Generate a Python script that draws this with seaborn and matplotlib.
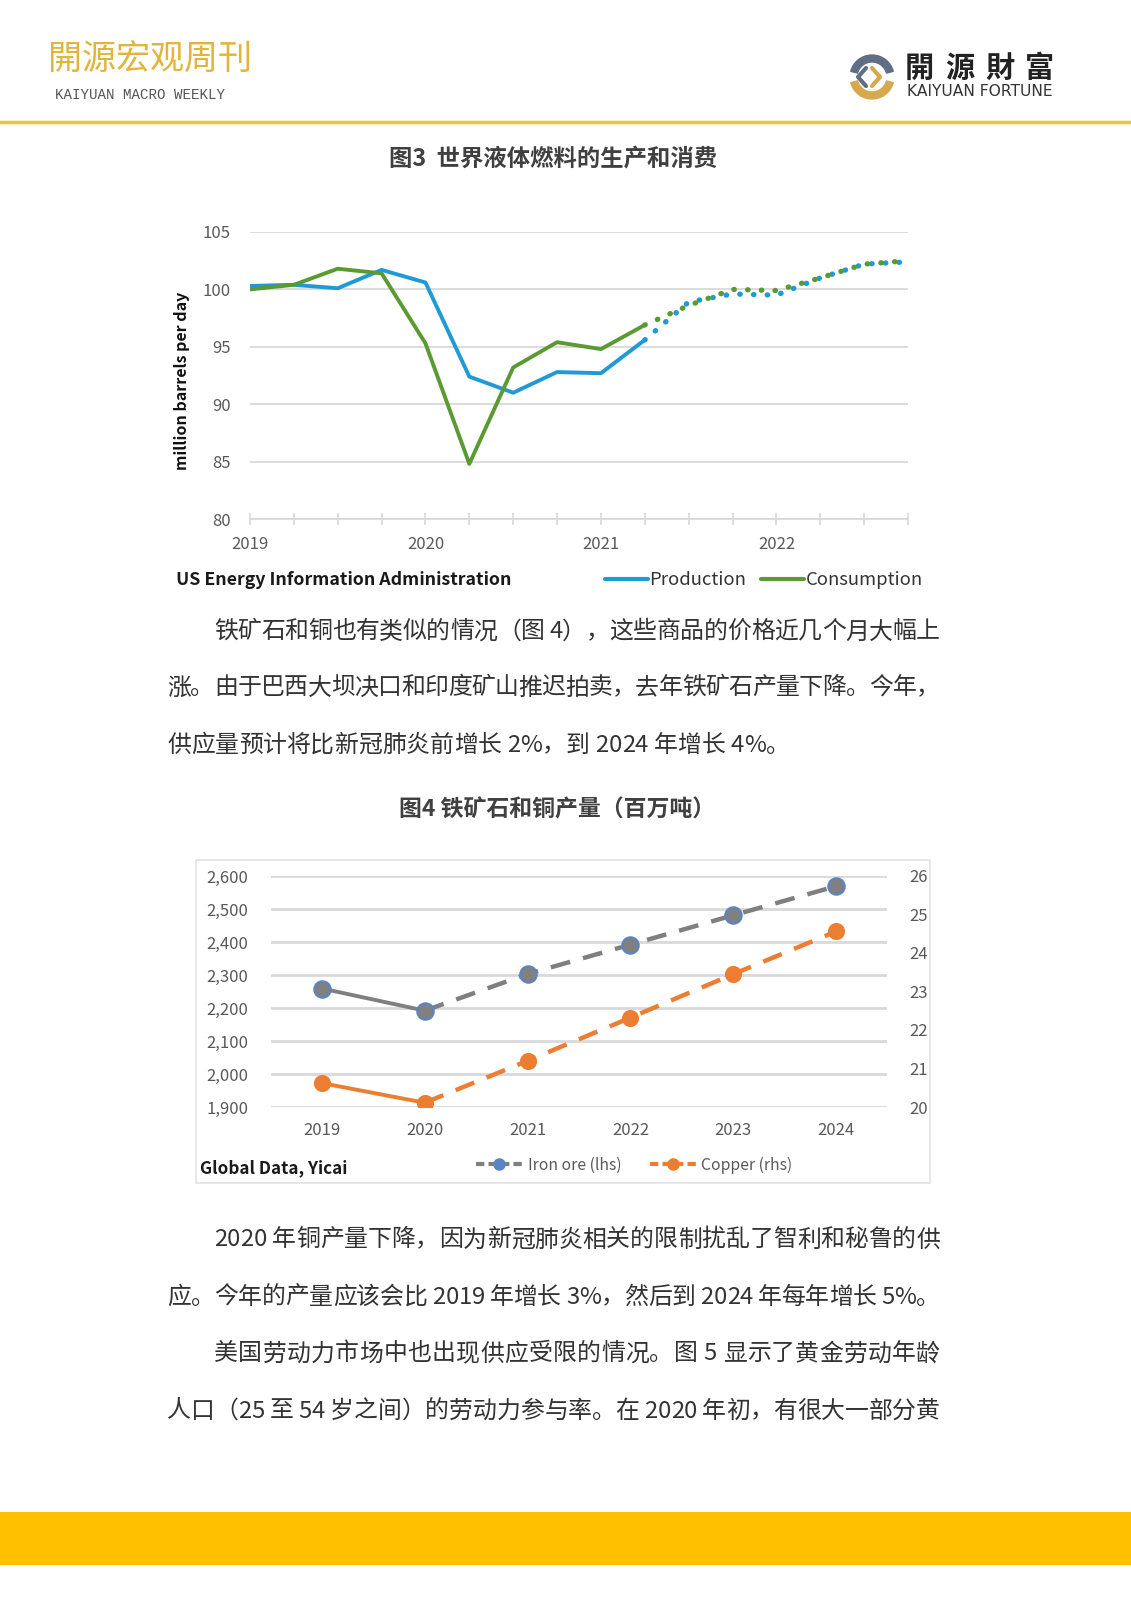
import seaborn as sns
import matplotlib.pyplot as plt
import pandas as pd
from matplotlib.lines import Line2D
from matplotlib.patches import Rectangle, Wedge
from matplotlib.font_manager import FontProperties
from matplotlib.textpath import TextToPath

# ---- data: figure 3 (quarterly, million barrels per day)
quarters = [2019.0, 2019.25, 2019.5, 2019.75, 2020.0, 2020.25, 2020.5, 2020.75,
            2021.0, 2021.25, 2021.5, 2021.75, 2022.0, 2022.25, 2022.5, 2022.75]
production = [100.3, 100.4, 100.1, 101.7, 100.6, 92.4, 91.0, 92.8,
              92.7, 95.6, 98.9, 99.6, 99.5, 101.0, 102.2, 102.4]
consumption = [100.0, 100.4, 101.8, 101.4, 95.3, 84.8, 93.2, 95.4,
               94.8, 96.9, 98.6, 100.0, 99.9, 101.0, 102.2, 102.5]
last_actual = 9  # 2021Q2, forecast after

# ---- data: figure 4 (million tonnes)
years = [2019, 2020, 2021, 2022, 2023, 2024]
iron_ore = [2259, 2192, 2303, 2392, 2481, 2569]
copper = [20.62, 20.11, 21.20, 22.32, 23.45, 24.56]
last_actual_year = 1

para1 = ["铁矿石和铜也有类似的情况（图 4），这些商品的价格近几个月大幅上",
         "涨。由于巴西大坝决口和印度矿山推迟拍卖，去年铁矿石产量下降。今年，",
         "供应量预计将比新冠肺炎前增长 2%，到 2024 年增长 4%。"]
para2 = ["2020 年铜产量下降，因为新冠肺炎相关的限制扰乱了智利和秘鲁的供",
         "应。今年的产量应该会比 2019 年增长 3%，然后到 2024 年每年增长 5%。"]
para3 = ["美国劳动力市场中也出现供应受限的情况。图 5 显示了黄金劳动年龄",
         "人口（25 至 54 岁之间）的劳动力参与率。在 2020 年初，有很大一部分黄"]

sns.set_theme(style="white")
plt.rcParams['font.family'] = ['Noto Sans CJK SC', 'DejaVu Sans']

BLUE = "#1f9ad6"
GREEN = "#5b9a32"
GREY = "#7f7f7f"
ORANGE = "#ed7d31"
GRID = "#d9d9d9"
TICK = "#595959"
DOTS = (0, (0.1, 2.5))

fig = plt.figure(figsize=(11.31, 16), dpi=100)

# page decoration in pixel coordinates
deco = fig.add_axes([0, 0, 1, 1], zorder=0)
deco.set_xlim(0, 1131)
deco.set_ylim(1600, 0)
deco.axis("off")

deco.text(48, 60, "開源宏观周刊", fontsize=24.5, color="#e2b43c", va="center")
deco.text(55, 95, "KAIYUAN MACRO WEEKLY", fontsize=10.2, color="#555555", va="center",
          family=["Liberation Mono", "DejaVu Sans Mono"])
deco.axhline(122, color="#f3c13a", lw=2.5)
# logo
deco.add_patch(Wedge((872, 77), 22, 15, 165, width=7, color="#d6a94f"))
deco.add_patch(Wedge((872, 77), 22, 195, 345, width=7, color="#5f6e85"))
deco.plot([866, 858, 866], [68, 77, 86], color="#5f6e85", lw=3)
deco.plot([872, 880, 872], [68, 77, 86], color="#d6a94f", lw=3)
for i, ch in enumerate("開源財富"):
    deco.text(905 + i * 40, 68, ch, fontsize=21, weight="bold", color="#222222", va="center")
deco.text(907, 92, "KAIYUAN FORTUNE", fontsize=11.2, color="#333333", va="center",
          family=["DejaVu Sans"])
deco.add_patch(Rectangle((0, 1512), 1131, 53, color="#ffc000", lw=0))

deco.text(553, 158, "图3  世界液体燃料的生产和消费", fontsize=16.8, weight="bold",
          color="#404040", ha="center", va="center")
deco.text(557, 810, "图4 铁矿石和铜产量（百万吨）", fontsize=16.5, weight="bold",
          color="#404040", ha="center", va="center")
deco.add_patch(Rectangle((196, 860), 734, 323, fill=False, edgecolor="#e3e3e3", lw=1.2))

# body text, justified line by line
body_prop = FontProperties(family="Noto Sans CJK SC", size=17.2)
t2p = TextToPath()


def put_line(x0, x1, y, s, justify=True):
    widths = [t2p.get_text_width_height_descent(ch, body_prop, ismath=False)[0] * 100 / 72
              for ch in s]
    extra = (x1 - x0 - sum(widths)) / (len(s) - 1) if justify else 0
    x = x0
    for ch, w in zip(s, widths):
        deco.text(x, y, ch, fontproperties=body_prop, color="#333333", va="center")
        x += w + extra


put_line(214, 940, 632, para1[0])
put_line(167, 940, 688, para1[1])
put_line(167, 940, 745, para1[2], justify=False)
put_line(214, 940, 1240, para2[0])
put_line(167, 940, 1297, para2[1])
put_line(214, 940, 1354, para3[0])
put_line(167, 940, 1411, para3[1])

# ---- figure 3
df3 = pd.DataFrame({"quarter": quarters, "Production": production, "Consumption": consumption})
act = df3.iloc[:last_actual + 1]
fc = df3.iloc[last_actual:]

ax1 = fig.add_axes([250 / 1131, 1 - 519 / 1600, 658 / 1131, 287 / 1600], zorder=2)
ax1.patch.set_alpha(0)
sns.lineplot(data=act, x="quarter", y="Production", color=BLUE, lw=2.8, ax=ax1)
sns.lineplot(data=act, x="quarter", y="Consumption", color=GREEN, lw=2.8, ax=ax1)
sns.lineplot(data=fc, x="quarter", y="Production", color=BLUE, lw=3.8,
             linestyle=DOTS, dash_capstyle="round", ax=ax1)
sns.lineplot(data=fc, x="quarter", y="Consumption", color=GREEN, lw=3.8,
             linestyle=DOTS, dash_capstyle="round", ax=ax1)
ax1.set_xlim(2019, 2022.75)
ax1.set_ylim(80, 105)
ax1.set_yticks([80, 85, 90, 95, 100, 105])
ax1.set_xticks([2019, 2020, 2021, 2022])
ax1.set_xticklabels(["2019", "2020", "2021", "2022"])
ax1.set_xticks(quarters, minor=True)
ax1.grid(axis="y", color=GRID, lw=1.3)
ax1.set_axisbelow(True)
for side in ["left", "right", "top"]:
    ax1.spines[side].set_visible(False)
ax1.spines["bottom"].set_color(GRID)
ax1.spines["bottom"].set_linewidth(1.3)
ax1.tick_params(axis="x", which="both", direction="inout", length=9, width=1.2,
                color=GRID, bottom=True, labelsize=12, labelcolor=TICK, pad=8)
ax1.tick_params(axis="y", length=0, labelsize=12, labelcolor=TICK, pad=14)
ax1.set_xlabel("")
ax1.set_ylabel("million barrels per day", fontsize=11.5, weight="bold", color="#111111")
ax1.yaxis.set_label_coords(-0.091, 0.48)

deco.text(176, 580, "US Energy Information Administration", fontsize=12.8, weight="bold",
          color="#1a1a1a", va="center")
h1 = [Line2D([], [], color=BLUE, lw=3), Line2D([], [], color=GREEN, lw=3)]
fig.legend(h1, ["Production", "Consumption"], loc="center left",
           bbox_to_anchor=(596 / 1131, 1 - 580 / 1600), ncol=2, frameon=False,
           fontsize=13.3, handlelength=2.3, handletextpad=0.1, columnspacing=0.8,
           borderpad=0, labelcolor="#333333")

# ---- figure 4
df4 = pd.DataFrame({"year": years, "iron": iron_ore, "copper": copper})
ax2 = fig.add_axes([270.6 / 1131, 1 - 1107 / 1600, 616.8 / 1131, 231 / 1600], zorder=2)
ax2.patch.set_alpha(0)
ax3 = ax2.twinx()
sns.lineplot(data=df4.iloc[:last_actual_year + 1], x="year", y="iron", color=GREY, lw=2.8, ax=ax2)
sns.lineplot(data=df4.iloc[last_actual_year:], x="year", y="iron", color=GREY, lw=3.2,
             linestyle=(0, (4.5, 3)), ax=ax2)
sns.scatterplot(data=df4, x="year", y="iron", color="#808080", edgecolor="#5b84c4",
                linewidth=1.5, s=140, ax=ax2, zorder=5)
sns.lineplot(data=df4.iloc[:last_actual_year + 1], x="year", y="copper", color=ORANGE, lw=2.8, ax=ax3)
sns.lineplot(data=df4.iloc[last_actual_year:], x="year", y="copper", color=ORANGE, lw=3.2,
             linestyle=(0, (4.5, 3)), ax=ax3)
sns.scatterplot(data=df4, x="year", y="copper", color=ORANGE, edgecolor=ORANGE,
                s=130, ax=ax3, zorder=5)
ax2.set_xlim(2018.5, 2024.5)
ax2.set_ylim(1900, 2600)
ax3.set_ylim(20, 26)
ax2.set_yticks(range(1900, 2601, 100))
ax2.set_yticklabels([f"{v:,}" for v in range(1900, 2601, 100)])
ax3.set_yticks(range(20, 27))
ax2.set_xticks(years)
ax2.set_xticklabels([str(y) for y in years])
ax2.grid(axis="y", color=GRID, lw=2)
ax2.set_axisbelow(True)
for a in (ax2, ax3):
    for side in ["left", "right", "top", "bottom"]:
        a.spines[side].set_visible(False)
    a.set_xlabel("")
    a.set_ylabel("")
ax2.tick_params(axis="both", length=0, labelsize=12, labelcolor=TICK)
ax2.tick_params(axis="y", pad=16)
ax2.tick_params(axis="x", pad=11)
ax3.tick_params(axis="y", length=0, labelsize=12, labelcolor=TICK, pad=16)

deco.text(200, 1168, "Global Data, Yicai", fontsize=12.3, weight="bold",
          color="#1a1a1a", va="center")
h2 = [Line2D([], [], color=GREY, lw=3, ls=(0, (2, 1)), marker="o", markersize=8,
             markerfacecolor="#5b84c4", markeredgecolor="#5b84c4"),
      Line2D([], [], color=ORANGE, lw=3, ls=(0, (2, 1)), marker="o", markersize=8,
             markerfacecolor=ORANGE, markeredgecolor=ORANGE)]
fig.legend(h2, ["Iron ore (lhs)", "Copper (rhs)"], loc="center left",
           bbox_to_anchor=(468 / 1131, 1 - 1165 / 1600), ncol=2, frameon=False,
           fontsize=11.3, handlelength=3.0, handletextpad=0.3, columnspacing=1.8,
           borderpad=0, labelcolor=TICK)

fig.savefig("out.png", dpi=100)
